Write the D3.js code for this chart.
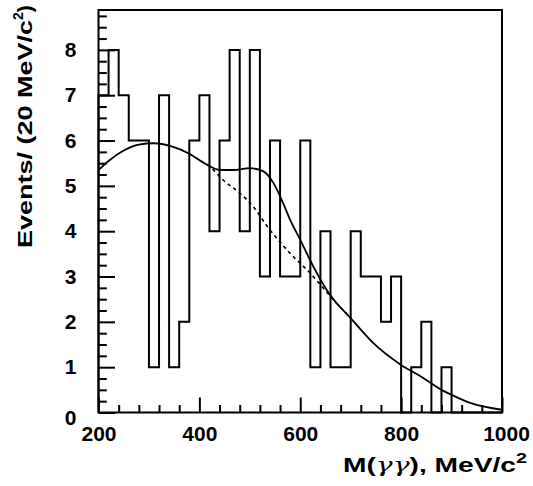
<!DOCTYPE html>
<html>
<head>
<meta charset="utf-8">
<script src="https://cdn.jsdelivr.net/npm/d3@7"></script>
<style>
  html, body { margin: 0; padding: 0; background: #fff; }
  svg { display: block; }
  text { font-family: "Liberation Sans", Arial, Helvetica, sans-serif; font-weight: bold; fill: #000; }
</style>
</head>
<body>
<svg id="chart" width="533" height="486"></svg>
<script>
// ---- data ----
const binLow = [200,220,240,260,280,300,320,340,360,380,400,420,440,460,480,500,520,540,560,580,
                600,620,640,660,680,700,720,740,760,780,800,820,840,860,880,900,920,940,960,980];
const binWidth = 20;
const counts = [7,8,7,6,6,1,7,1,2,6,7,4,6,8,4,8,3,6,3,3,
                6,1,4,1,1,4,3,3,2,3,0,1,2,0,1,0,0,0,0,0];
// background (dashed) curve samples
const bgX = [200,220,250,280,310,345,380,410,420,447,480,507,535,580,620,660,700,745,800,840,880,900,940,1000];
const bgY = [5.35,5.55,5.78,5.91,5.94,5.87,5.71,5.50,5.43,5.13,4.84,4.54,4.10,3.51,3.07,2.56,2.08,1.53,1.05,0.79,0.50,0.39,0.20,0.06];
// total fit (solid) curve samples
const fitX = [200,220,250,280,310,345,380,410,441,467,500,527,547,566,580,600,626,660,700,745,800,840,880,900,940,1000];
const fitY = [5.35,5.55,5.78,5.91,5.94,5.87,5.71,5.50,5.35,5.35,5.39,5.32,5.06,4.62,4.25,3.81,3.22,2.58,2.08,1.53,1.05,0.79,0.50,0.39,0.20,0.06];
const xMajorTicks = [200,400,600,800,1000];
const yMajorTicks = [0,1,2,3,4,5,6,7,8];
const yTitle = "Events/ (20 MeV/c";

// ---- layout ----
const L = 98.5, R = 502, T = 10, B = 412.5;
const svg = d3.select("#chart");
const x = d3.scaleLinear().domain([200, 1000]).range([L, R]);
const y = d3.scaleLinear().domain([0, 8.88]).range([B, T]);

svg.append("clipPath").attr("id", "clip").append("rect")
  .attr("x", L).attr("y", T).attr("width", R - L).attr("height", B - T);

// histogram outline
const pts = [[200, 0]];
binLow.forEach((b, i) => { pts.push([b, counts[i]]); pts.push([b + binWidth, counts[i]]); });
pts.push([1000, 0]);
const lineH = d3.line().x(d => x(d[0])).y(d => y(d[1]));
svg.append("path").attr("d", lineH(pts))
  .attr("fill", "none").attr("stroke", "#000").attr("stroke-width", 2);

// curves
const lineC = d3.line().x(d => x(d[0])).y(d => y(d[1])).curve(d3.curveMonotoneX);
const bgPts = bgX.map((v, i) => [v, bgY[i]]);
const fitPts = fitX.map((v, i) => [v, fitY[i]]);
svg.append("path").attr("d", lineC(bgPts.filter(d => d[0] >= 380 && d[0] <= 700)))
  .attr("clip-path", "url(#clip)")
  .attr("fill", "none").attr("stroke", "#000").attr("stroke-width", 1.6)
  .attr("stroke-dasharray", "3.5,3.5");
svg.append("path").attr("d", lineC(fitPts))
  .attr("clip-path", "url(#clip)")
  .attr("fill", "none").attr("stroke", "#000").attr("stroke-width", 1.8);

// axes (ticks inward)
function styleAxis(sel) {
  sel.select(".domain").remove();
  sel.selectAll(".tick line").attr("stroke", "#000").attr("stroke-width", 2);
  sel.selectAll("text").attr("font-family", "Liberation Sans, Arial, sans-serif")
    .attr("font-weight", "bold").attr("font-size", 21).attr("fill", "#000");
}
const xMinor = d3.range(200, 1001, 40).filter(v => !xMajorTicks.includes(v));
svg.append("g").attr("transform", `translate(0,${B})`)
  .call(d3.axisBottom(x).tickValues(xMinor).tickSize(-7.5).tickFormat(""))
  .call(styleAxis);
svg.append("g").attr("transform", `translate(0,${B})`)
  .call(d3.axisBottom(x).tickValues(xMajorTicks).tickSize(-15).tickPadding(13.5).tickFormat(d3.format("d")))
  .call(styleAxis)
  .call(s => s.selectAll("text").filter(d => d === 1000).attr("x", 4));

const yMinor = d3.range(0, 8.8, 0.25).filter(v => Math.abs(v - Math.round(v)) > 1e-6);
svg.append("g").attr("transform", `translate(${L},0)`)
  .call(d3.axisLeft(y).tickValues(yMinor).tickSize(-8.3).tickFormat(""))
  .call(styleAxis);
svg.append("g").attr("transform", `translate(${L},0)`)
  .call(d3.axisLeft(y).tickValues(yMajorTicks).tickSize(-16.5).tickPadding(22).tickFormat(d3.format("d")))
  .call(styleAxis)
  .call(s => s.selectAll("text").filter(d => d === 0).attr("dy", "0.55em"));

// frame
svg.append("rect").attr("x", L).attr("y", T).attr("width", R - L).attr("height", B - T)
  .attr("fill", "none").attr("stroke", "#000").attr("stroke-width", 2);

// axis titles
const xt = svg.append("text").attr("x", 343).attr("y", 472).attr("font-size", 20)
  .attr("textLength", 184).attr("lengthAdjust", "spacingAndGlyphs");
xt.append("tspan").text("M(");
xt.append("tspan").attr("font-family", "DejaVu Serif").attr("font-weight", "normal").attr("font-style", "italic").text("γγ");
xt.append("tspan").text("), MeV/c");
xt.append("tspan").attr("dy", -9).attr("font-size", 14).text("2");

const yt = svg.append("text").attr("transform", "translate(32,248) rotate(-90)").attr("font-size", 21);
yt.append("tspan").attr("textLength", 228).attr("lengthAdjust", "spacingAndGlyphs").text(yTitle);
yt.append("tspan").attr("dy", -9).attr("font-size", 14).text("2");
yt.append("tspan").attr("dy", 9).text(")");
</script>
</body>
</html>
